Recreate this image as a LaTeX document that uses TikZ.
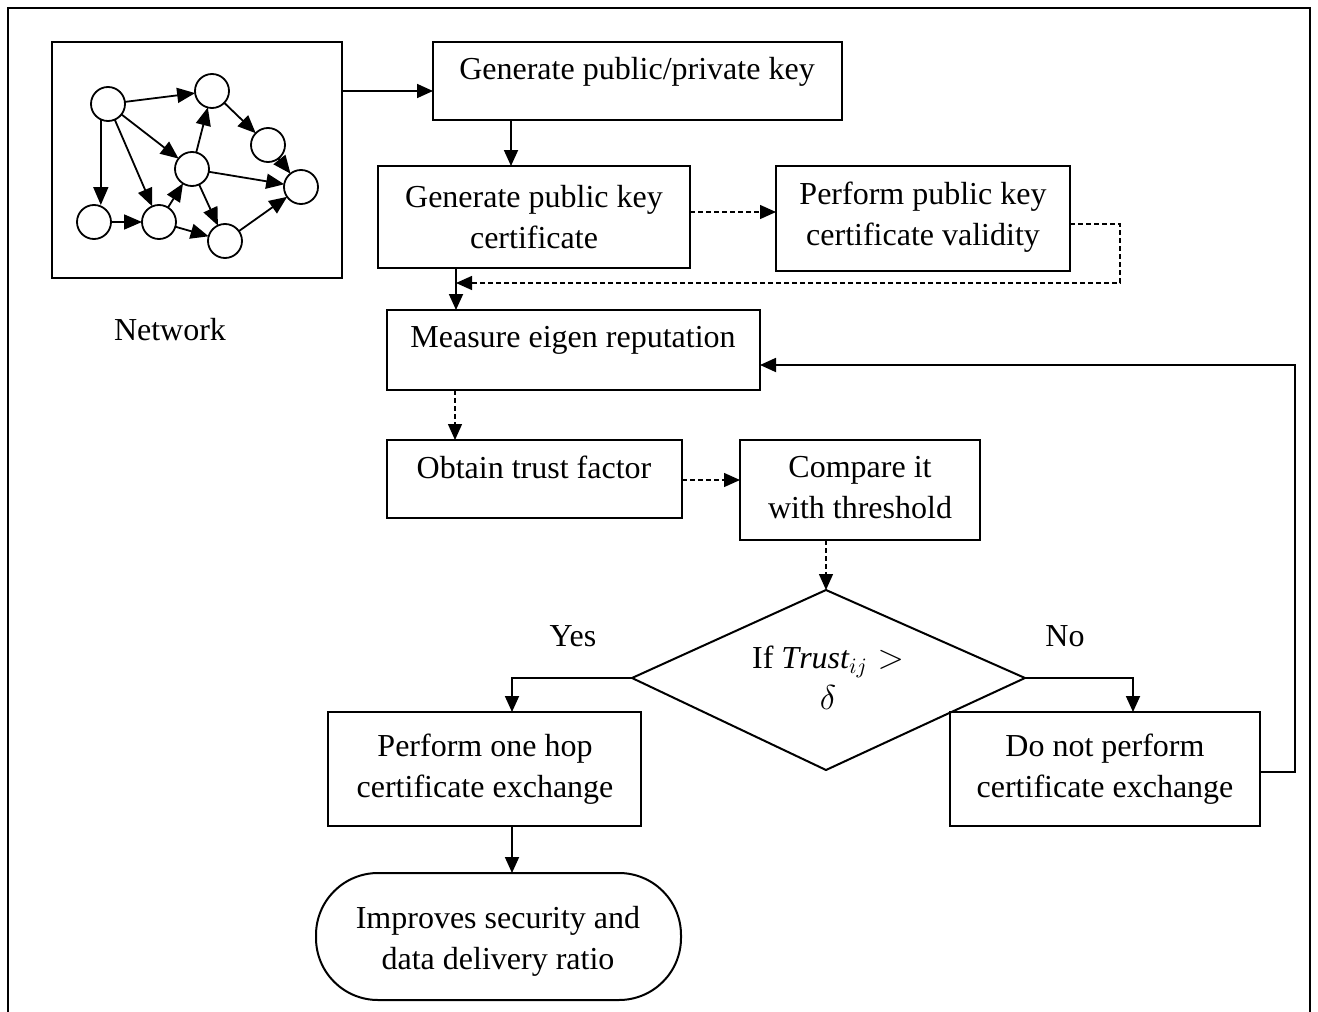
\documentclass[tikz,border=0pt]{standalone}
\usepackage{fontspec}
\setmainfont{Liberation Serif}
\usetikzlibrary{arrows.meta,calc}
\begin{document}
\begin{tikzpicture}[x=0.5pt,y=-0.5pt,
  box/.style={draw,line width=1pt,inner sep=0pt,outer sep=0pt},
  txt/.style={align=center,font=\fontsize{16}{20.5}\selectfont,inner sep=0pt},
  arr/.style={line width=0.9pt,-{Triangle[length=8pt,width=7pt]}},
  darr/.style={line width=0.7pt,dash pattern=on 2.5pt off 1.5pt,-{Triangle[length=8pt,width=7pt]}},
  gnode/.style={circle,draw,line width=0.9pt,minimum size=17pt,inner sep=0pt,outer sep=0pt},
  garr/.style={line width=0.9pt,-{Triangle[length=9pt,width=7.5pt]}}
]
\useasboundingbox (0,0) rectangle (1318,1012);
% outer frame
\draw[line width=0.75pt] (8,1012) -- (8,8) -- (1310,8) -- (1310,1012);

% network box
\node[box,minimum width=145pt,minimum height=118pt] (net) at (197,160) {};
\node[txt] (netlbl) at (170,330) {Network};
% graph
\node[gnode] (ga) at (108,104) {};
\node[gnode] (gb) at (212,91) {};
\node[gnode] (gc) at (268,145) {};
\node[gnode] (gd) at (192,169) {};
\node[gnode] (ge) at (301,187) {};
\node[gnode] (gf) at (94,222) {};
\node[gnode] (gg) at (159,222) {};
\node[gnode] (gh) at (225,241) {};
\draw[garr] (ga) -- (gb);
\draw[garr] (ga) -- (gd);
\draw[garr] (ga.245) -- (ga.245 |- gf.north);
\draw[garr] (ga) -- (gg);
\draw[garr] (gb) -- (gc);
\draw[garr] (gc) -- (ge);
\draw[garr] (gd) -- (gb);
\draw[garr] (gd) -- (ge);
\draw[garr] (gd) -- (gh);
\draw[garr] (gg) -- (gd);
\draw[garr] (gf) -- (gg);
\draw[garr] (gg) -- (gh);
\draw[garr] (gh) -- (ge);

% boxes
\node[box,minimum width=204.5pt,minimum height=39pt] (b1) at (637.5,81) {};
\node[txt] (b1t) at (637,72) {Generate public/private key};
\node[box,minimum width=156pt,minimum height=51pt] (b2) at (534,217) {};
\node[txt] (b2t) at (534,217) {Generate public key\\certificate};
\node[box,minimum width=147pt,minimum height=52.5pt] (b3) at (923,218.5) {};
\node[txt] (b3t) at (923,217) {Perform public key\\certificate validity};
\node[box,minimum width=186.5pt,minimum height=40pt] (meas) at (573.5,350) {};
\node[txt] (meast) at (573,340) {Measure eigen reputation};
\node[box,minimum width=147.5pt,minimum height=39pt] (obt) at (534.5,479) {};
\node[txt] (obtt) at (534,467) {Obtain trust factor};
\node[box,minimum width=120pt,minimum height=50pt] (cmp) at (860,490) {};
\node[txt] (cmpt) at (860,488) {Compare it\\with threshold};

% diamond
\coordinate (dT) at (826,590);
\coordinate (dL) at (632,678);
\coordinate (dR) at (1025,678);
\coordinate (dB) at (826,770);
\draw[line width=1pt] (dT) -- (dR) -- (dB) -- (dL) -- cycle;
\node[txt] (dt) at (828,678) {If $\mathit{Trust}_{ij} >$\\$\delta$};
\node[txt] (yes) at (573,636) {Yes};
\node[txt] (no) at (1065,636) {No};

\node[box,minimum width=156.5pt,minimum height=57pt] (hop) at (484.5,769) {};
\node[txt] (hopt) at (485,769) {Perform one hop\\certificate exchange};
\node[box,minimum width=155pt,minimum height=57pt] (nop) at (1105,769) {};
\node[txt] (nopt) at (1105,769) {Do not perform\\certificate exchange};
\node[box,rounded corners=31pt,minimum width=182.5pt,minimum height=63.5pt] (fin) at (498.5,936.5) {};
\node[txt] (fint) at (498,941) {Improves security and\\data delivery ratio};

% connectors
\draw[arr] (net.east |- 0,91) -- (b1.west |- 0,91);
\draw[arr] (511,0 |- b1.south) -- (511,0 |- b2.north);
\draw[darr] (b2.east |- 0,212) -- (b3.west |- 0,212);
\coordinate (ret) at (456,283);
\draw[darr] (b3.east |- 0,224) -- (1120,224) -- (1120,283) -- (ret);
\draw[arr] (456,0 |- b2.south) -- (456,0 |- meas.north);
\draw[darr] (455,0 |- meas.south) -- (455,0 |- obt.north);
\draw[darr] (obt.east |- 0,480) -- (cmp.west |- 0,480);
\draw[darr] (826,0 |- cmp.south) -- (dT);
\draw[arr] (dL) -- (512,678) -- (512,0 |- hop.north);
\draw[arr] (dR) -- (1133,678) -- (1133,0 |- nop.north);
\draw[arr] (nop.east |- 0,772) -- (1295,772) -- (1295,365) -- (meas.east |- 0,365);
\draw[arr] (512,0 |- hop.south) -- (512,0 |- fin.north);
\end{tikzpicture}
\end{document}
